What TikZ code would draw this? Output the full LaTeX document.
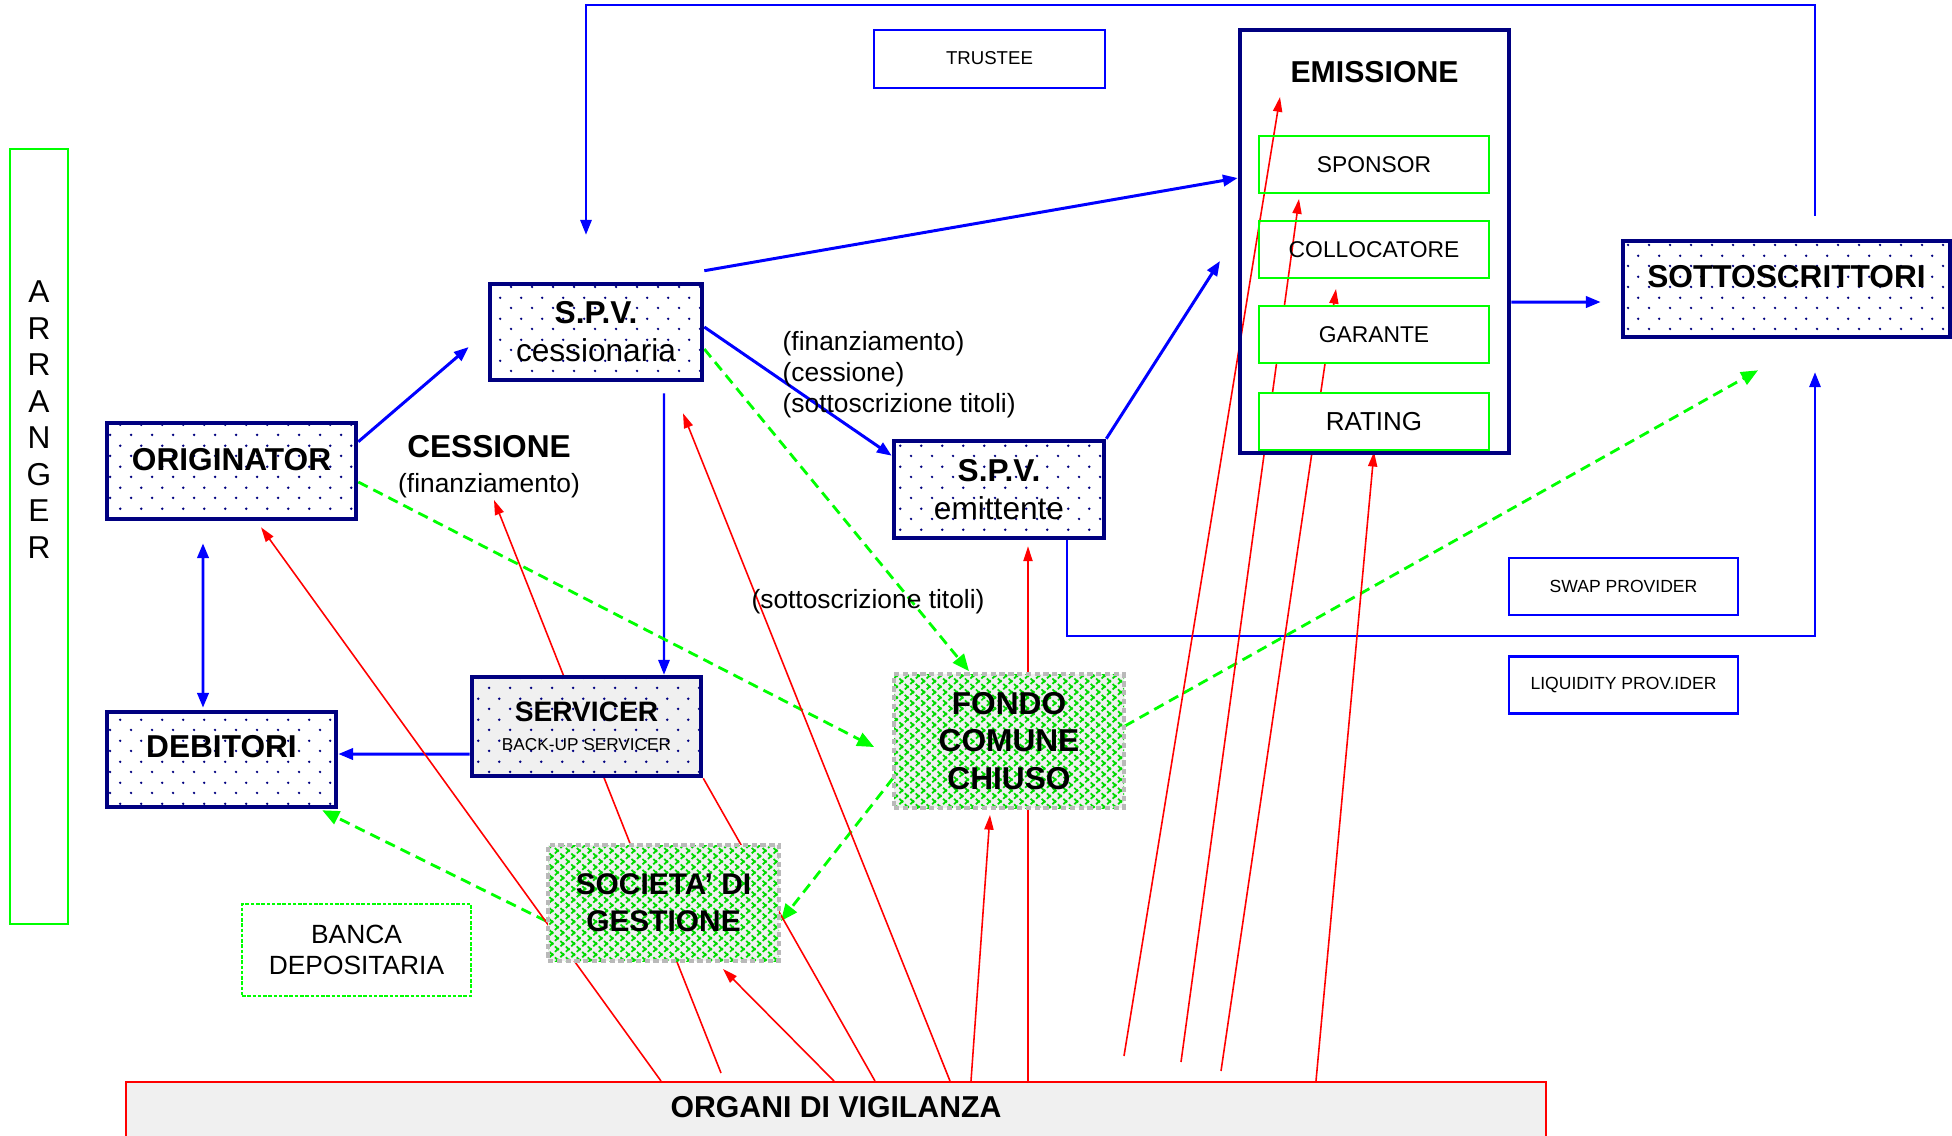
\documentclass[tikz,border=0pt]{standalone}
\usepackage{fontspec}
\setmainfont{Liberation Sans}
\usetikzlibrary{arrows.meta,positioning,patterns.meta,backgrounds}
\definecolor{secblue}{HTML}{0000FF}
\definecolor{secnavy}{HTML}{000080}
\definecolor{secred}{HTML}{FF0000}
\definecolor{secgreen}{HTML}{00FF00}
\definecolor{secgray}{HTML}{F0F0F0}

\tikzdeclarepattern{
  name=spvdots,
  type=uncolored,
  bounding box={(0pt,0pt) and (6pt,6pt)},
  tile size={(6pt,6pt)},
  code={
    \fill (1.5pt,1.5pt) circle (0.4pt);
    \fill (4.5pt,4.5pt) circle (0.4pt);
  }
}

\begin{document}
\begin{tikzpicture}[
  x=0.1mm, y=-0.1mm,
  font=\fontsize{9}{10.8}\selectfont,
  spvbox/.style={draw=secnavy, line width=1.3pt, preaction={fill=white},
                 pattern=spvdots, pattern color=secnavy, inner sep=0pt,
                 align=center, minimum width=#1, minimum height=9.6mm},
  fundbox/.style={draw=gray!55, line width=1.1pt, dash pattern=on 1.5pt off 1pt,
                  preaction={fill=gray!12},
                  preaction={pattern={Lines[angle=45,distance=2.2pt,line width=0.5pt]}, pattern color=secgreen!85!black},
                  pattern={Lines[angle=-45,distance=2.2pt,line width=0.5pt]}, pattern color=secgreen!85!black,
                  inner sep=0pt, align=center, font=\bfseries\fontsize{9}{10.6}\selectfont},
  thinbox/.style={draw=secblue, line width=0.7pt, inner sep=0pt, minimum width=22.9mm,
                  minimum height=5.7mm, font=\fontsize{5}{6}\selectfont},
  subbox/.style={draw=secgreen, line width=0.55pt, inner sep=0pt, minimum width=23mm,
                 minimum height=5.7mm, font=\fontsize{6.5}{8}\selectfont},
  flow/.style={-{Triangle[length=4.2pt,width=3.2pt]}, line width=0.85pt, draw=secblue},
  thinflow/.style={-{Triangle[length=4.2pt,width=3.2pt]}, line width=0.6pt, draw=secblue},
  share/.style={-{Triangle[length=4.8pt,width=4pt]}, line width=0.8pt, draw=secgreen,
                dash pattern=on 3pt off 1.8pt},
  watch/.style={-{Triangle[length=4.2pt,width=2.6pt]}, line width=0.45pt, draw=secred},
  note/.style={font=\fontsize{7.5}{8.8}\selectfont}
]
  \useasboundingbox (0,0) rectangle (1952,1135);

  \node[draw=secgreen, line width=0.7pt, minimum width=5.8mm, minimum height=77.5mm, inner sep=0pt] (arranger) at (39,536.5) {};
  \node[align=center, font=\fontsize{9}{10.4}\selectfont] (arrangertxt) at (39,419.5) {A\\R\\R\\A\\N\\G\\E\\R};

  \node[thinbox, minimum width=23.1mm, minimum height=5.8mm, font=\fontsize{5.3}{6}\selectfont] (trustee) at (989.5,59) {\raisebox{0.3mm}{TRUSTEE}};

  \node[draw=secnavy, line width=1.3pt, minimum width=26.9mm, minimum height=42.3mm, inner sep=0pt] (emissione) at (1374.5,241.5) {};
  \node[font=\bfseries\fontsize{8.6}{10}\selectfont] (emtitle) at (1374.5,72) {EMISSIONE};
  \node[subbox] (sponsor) at (1374,164.5) {SPONSOR};
  \node[subbox, below=2.6mm of sponsor] (collocatore) {COLLOCATORE};
  \node[subbox, fill=white, below=2.6mm of collocatore] (garante) {GARANTE};
  \node[subbox, fill=white, below=2.8mm of garante, font=\fontsize{7.4}{9}\selectfont] (rating) {RATING};

  \node[spvbox=32.7mm] (sottoscrittori) at (1786.5,289) {\raisebox{2.5mm}{\bfseries SOTTOSCRITTORI}};
  \node[spvbox=21.2mm] (spvc) at (596,332) {{\bfseries S.P.V.}\\cessionaria};
  \node[spvbox=21mm, minimum height=9.7mm] (spve) at (999,489.5) {{\bfseries S.P.V.}\\emittente};
  \node[spvbox=24.9mm] (originator) at (231.5,471) {\raisebox{2.4mm}{\bfseries ORIGINATOR}};
  \node[spvbox=22.9mm, minimum height=9.5mm] (debitori) at (221.5,759.5) {\raisebox{2.7mm}{\bfseries DEBITORI}};
  \node[spvbox=22.9mm, minimum height=9.9mm, preaction={fill=secgray}] (servicer) at (586.5,726.5)
    {{\bfseries\fontsize{8}{9}\selectfont SERVICER}\\[-2.5pt]{\fontsize{4.9}{6}\selectfont BACK-UP SERVICER}};

  \node[fundbox, minimum width=23mm, minimum height=13.4mm] (fondo) at (1009,741) {FONDO\\COMUNE\\CHIUSO};
  \node[fundbox, minimum width=23.1mm, minimum height=11.6mm, font=\bfseries\fontsize{8.5}{10.6}\selectfont] (societa) at (663.5,903) {SOCIETA’ DI\\GESTIONE};

  \node[draw=secgreen, line width=0.5pt, dash pattern=on 1pt off 0.5pt, inner sep=0pt, align=center,
        minimum width=22.9mm, minimum height=9.2mm, font=\fontsize{7.5}{8.9}\selectfont] (banca) at (356.5,950) {BANCA\\DEPOSITARIA};

  \node[thinbox] (swap) at (1623.5,586.5) {SWAP PROVIDER};
  \node[thinbox, below=3.9mm of swap] (liquidity) {LIQUIDITY PROV.IDER};

  \node[draw=secred, line width=0.7pt, fill=secgray, anchor=north, inner sep=0pt,
        minimum width=142mm, minimum height=6.4mm, font=\bfseries\fontsize{8.6}{10}\selectfont] (organi) at (836,1081) {\raisebox{1.5mm}{ORGANI DI VIGILANZA}};

  \node[align=center] (cessione) at (489,467) {{\bfseries CESSIONE}\\[-0.8pt]{\fontsize{7.5}{9}\selectfont (finanziamento)}};
  \node[note, anchor=west, align=left, inner sep=0pt] (flowlabel) at (782,375) {(finanziamento)\\(cessione)\\(sottoscrizione titoli)};
  \node[note] (subtitoli) at (868,602) {(sottoscrizione titoli)};

  \coordinate (cessin) at (494,500);
  \coordinate (emin) at (1220,261);
  \coordinate (emtop) at (1280,97);

  \begin{pgfonlayer}{background}
    \draw[thinflow] ([xshift=2.85mm,yshift=2.3mm]sottoscrittori.north) -- ++(0,-211) -| ([xshift=-1mm,yshift=4.7mm]spvc.north);
    \draw[flow] ([yshift=-2.1mm]originator.north east) -- ([xshift=-1.9mm,yshift=-1.5mm]spvc.west);
    \draw[flow] ([yshift=1.1mm]spvc.north east) -- ([yshift=6.35mm]emissione.west);
    \draw[flow] ([yshift=0.5mm]spvc.east) -- ([yshift=-1.7mm]spve.north west);
    \draw[flow] (spve.north east) -- (emin);
    \draw[flow] ([yshift=-6.05mm]emissione.east) -- ([xshift=-2mm,yshift=-1.3mm]sottoscrittori.west);
    \draw[thinflow] ([xshift=6.8mm]spve.south) -- ++(0,96) -| ([xshift=2.85mm,yshift=-3.3mm]sottoscrittori.south);
    \draw[thinflow] ([xshift=6.8mm,yshift=-1.1mm]spvc.south) -- ([xshift=7.75mm]servicer.north);
    \draw[flow] ([yshift=-2.75mm]servicer.west) -- ([yshift=0.55mm]debitori.east);
    \draw[flow, {Triangle[length=4.2pt,width=3.2pt]}-{Triangle[length=4.2pt,width=3.2pt]}]
      ([xshift=-2.85mm,yshift=-2.2mm]originator.south) -- ([xshift=-1.85mm,yshift=0.2mm]debitori.north);

    \draw[share] ([yshift=-1.1mm]originator.east) -- ([xshift=-1.9mm,yshift=-0.6mm]fondo.west);
    \draw[share] ([yshift=-1.7mm]spvc.east) -- ([xshift=-4mm,yshift=0.2mm]fondo.north);
    \draw[share] ([yshift=1.5mm]fondo.east) -- ([xshift=-2.85mm,yshift=-3.1mm]sottoscrittori.south);
    \draw[share] ([yshift=-3.7mm]fondo.west) -- ([yshift=-1.8mm]societa.east);
    \draw[share] ([yshift=-1.8mm]societa.west) -- ([xshift=-1.6mm,yshift=-0.1mm]debitori.south east);

    \draw[watch] ([xshift=-17.5mm]organi.north) -- ([xshift=2.95mm,yshift=-0.6mm]originator.south);
    \draw[watch] ([xshift=-11.5mm,yshift=0.8mm]organi.north) -- (cessin);
    \draw[watch] ([xshift=-0.2mm]organi.north) -- ([xshift=5.95mm,yshift=-0.6mm]societa.south);
    \draw[watch, -] ([xshift=3.9mm]organi.north) -- (servicer.south east);
    \draw[watch] ([xshift=11.4mm]organi.north) -- ([xshift=8.7mm,yshift=-3.1mm]spvc.south);
    \draw[watch] ([xshift=13.5mm]organi.north) -- ([xshift=-1.9mm,yshift=-0.6mm]fondo.south);
    \draw[watch] ([xshift=19.2mm]organi.north) -- ([xshift=2.9mm,yshift=-0.6mm]spve.south);
    \draw[watch] ([xshift=28.8mm,yshift=2.5mm]organi.north) -- (emtop);
    \draw[watch] ([xshift=34.5mm,yshift=1.9mm]organi.north) -- ([xshift=-7.5mm,yshift=-0.5mm]sponsor.south);
    \draw[watch] ([xshift=38.5mm,yshift=1mm]organi.north) -- ([xshift=-3.8mm,yshift=-1mm]collocatore.south);
    \draw[watch] ([xshift=48mm]organi.north) -- ([yshift=-0.1mm]rating.south);
  \end{pgfonlayer}
\end{tikzpicture}
\end{document}
